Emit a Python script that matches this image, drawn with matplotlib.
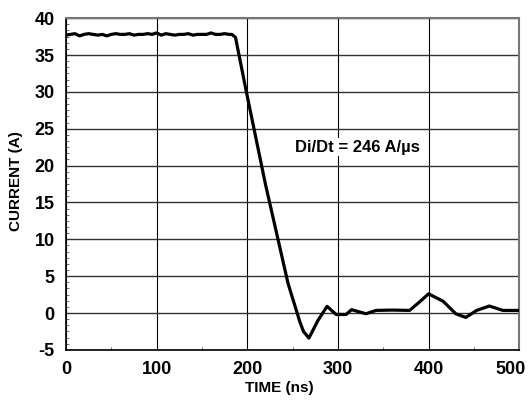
import numpy as np
import matplotlib.pyplot as plt
import matplotlib.transforms as mtransforms
from matplotlib.ticker import MultipleLocator

plt.rcParams['font.family'] = ['Liberation Sans', 'DejaVu Sans']
plt.rcParams['font.weight'] = 'bold'
plt.rcParams['axes.unicode_minus'] = False

# turn-off current waveform
t_ns = [0, 5, 10, 15, 20, 25, 30, 35, 40, 45, 50, 55, 60, 65, 70, 75, 80, 85, 90, 95,
        100, 105, 110, 115, 120, 125, 130, 135, 140, 145, 150, 155, 160, 165, 170, 175, 180, 183,
        187, 199, 220, 245, 258, 262, 268, 278, 288, 298, 309, 315, 331, 342, 360, 379,
        390, 400, 416, 430, 441, 453, 467, 482, 500]
i_amp = [37.7, 37.8, 37.9, 37.6, 37.8, 37.9, 37.8, 37.7, 37.8, 37.6, 37.8, 37.9, 37.8, 37.8, 37.9, 37.7, 37.8, 37.8, 37.9, 37.8,
         38.0, 37.7, 37.9, 37.8, 37.7, 37.8, 37.8, 37.9, 37.7, 37.8, 37.8, 37.8, 38.0, 37.8, 37.8, 37.9, 37.8, 37.8,
         37.4, 30.0, 17.5, 4.0, -1.2, -2.5, -3.4, -1.0, 0.9, -0.2, -0.2, 0.45, -0.1, 0.35, 0.4, 0.35,
         1.5, 2.6, 1.6, -0.1, -0.6, 0.35, 0.95, 0.35, 0.35]
x_ticks = [0, 100, 200, 300, 400, 500]

fig = plt.figure(figsize=(5.32, 4.04), dpi=100)
ax = fig.add_axes([0.124, 0.134, 0.852, 0.821])

ax.plot(t_ns, i_amp, color='black', linewidth=2.3, zorder=3)

ax.set_xlim(0, 500)
ax.set_ylim(-5, 40)
ax.set_xticks(x_ticks)
ax.yaxis.set_major_locator(MultipleLocator(5))
ax.xaxis.set_minor_locator(MultipleLocator(50))
ax.yaxis.set_minor_locator(MultipleLocator(5 / 6))

ax.grid(True, axis='x', color='black', linewidth=0.8)
ax.grid(True, axis='y', color='#333333', linewidth=1.0)
ax.tick_params(which='major', length=0, labelsize=13)
ax.tick_params(axis='x', which='major', pad=8)
ax.tick_params(axis='y', which='major', pad=8)
ax.tick_params(which='minor', direction='in', length=2.5, width=0.6, color='#555555')

for side in ['left', 'bottom']:
    ax.spines[side].set_color('black')
    ax.spines[side].set_linewidth(1.2)
for side in ['top', 'right']:
    ax.spines[side].set_color('#777777')
    ax.spines[side].set_linewidth(1.5)

ax.set_xlabel('TIME (ns)', fontsize=11, fontweight='bold')
ax.set_ylabel('CURRENT (A)', fontsize=11, fontweight='bold')
ax.xaxis.set_label_coords(0.47, -0.093)
ax.yaxis.set_label_coords(-0.095, 0.51)

# keep the last tick label inside the figure, as in the reference
fig.canvas.draw()
last = ax.xaxis.get_major_ticks()[-1].label1
last.set_transform(last.get_transform() + mtransforms.ScaledTranslation(-9 / 100, 0, fig.dpi_scale_trans))

ax.text(321, 22.5, 'Di/Dt = 246 A/\u00b5s', fontsize=12, fontweight='bold',
        ha='center', va='center', zorder=4,
        bbox=dict(facecolor='white', edgecolor='none', pad=1))

plt.savefig('out.png', dpi=100)
plt.close()
